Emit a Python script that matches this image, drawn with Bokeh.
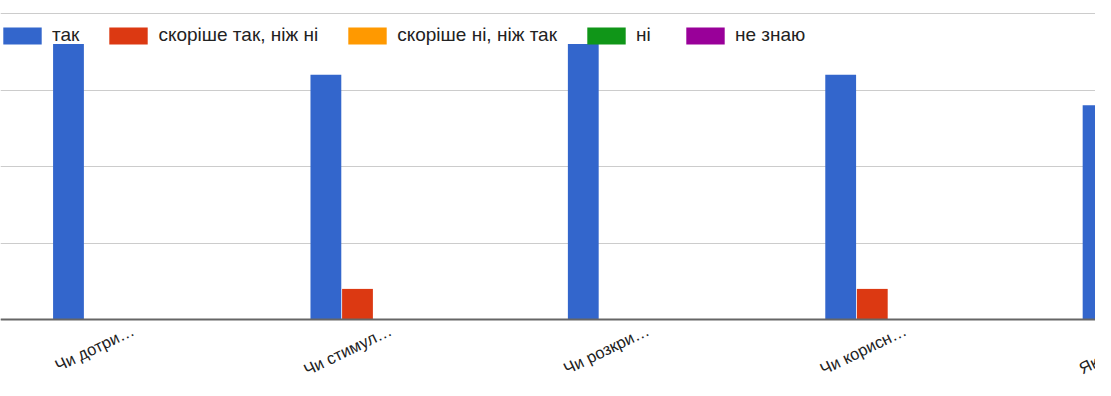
from bokeh.plotting import figure
from bokeh.models import Range1d, FixedTicker, Legend, LegendItem, ColumnDataSource, LabelSet, Span
from bokeh.core.properties import value
from bokeh.transform import dodge
from bokeh.embed import file_html
from bokeh.resources import INLINE

categories = ["Чи дотри…", "Чи стимул…", "Чи розкри…", "Чи корисн…", "Якщо вам…"]
series_names = ["так", "скоріше так, ніж ні", "скоріше ні, ніж так", "ні", "не знаю"]
tak = [18, 16, 18, 16, 14]
skorishe_tak = [0, 2, 0, 2, 4]
skorishe_ni = [0, 0, 0, 0, 0]
ni = [0, 0, 0, 0, 0]
ne_znayu = [0, 0, 0, 0, 0]
colors = ["#3366cc", "#dc3912", "#ff9900", "#109618", "#990099"]
y_ticks = [0, 5, 10, 15, 20]

W, H = 1095, 380
scale = 257.4           # px per category
x_start = -131.2 / scale
x_end = x_start + W / scale
top_border, baseline = 11, 319
px_per_unit = (baseline - 13) / 20.0
y_end = (baseline - top_border) / px_per_unit
y_start = -(H - baseline) / px_per_unit

xs = list(range(len(categories)))
src = ColumnDataSource(dict(x=xs, s0=tak, s1=skorishe_tak, s2=skorishe_ni, s3=ni, s4=ne_znayu))

p = figure(width=W, height=H, x_range=Range1d(x_start, x_end), y_range=Range1d(y_start, y_end),
           output_backend="svg", toolbar_location=None,
           min_border_left=0, min_border_right=0, min_border_top=top_border,
           min_border_bottom=0)
p.outline_line_color = None
p.xaxis.visible = False
p.yaxis.visible = False
p.xgrid.grid_line_color = None
p.ygrid.ticker = FixedTicker(ticks=y_ticks)
p.ygrid.grid_line_color = "#cccccc"
p.ygrid.grid_line_width = 1

pitch = 0.1228
offsets = [-2 * pitch, -pitch, 0, pitch, 2 * pitch]
items = []
for i, (name, c) in enumerate(zip(series_names, colors)):
    r = p.vbar(x=dodge("x", offsets[i], range=p.x_range), top="s%d" % i, bottom=0, width=0.1197,
               source=src, fill_color=c, line_color=None)
    items.append(LegendItem(label=name, renderers=[r]))

p.add_layout(Span(location=0, dimension="width", line_color="#666666", line_width=2))

lab_src = ColumnDataSource(dict(x=xs, text=categories))
labels = LabelSet(x=dodge("x", 4 / scale, range=p.x_range), y=-15 / px_per_unit, text="text",
                  source=lab_src, angle=0.45, text_align="right", text_baseline="alphabetic",
                  text_font=value("Liberation Sans"), text_font_size=value("16.5px"),
                  text_color="#222222")
p.add_layout(labels)

legend = Legend(items=items, orientation="horizontal", location=(-2, 334),
                border_line_color=None, background_fill_alpha=0, padding=0, margin=0,
                spacing=25, label_standoff=6, glyph_width=48, glyph_height=21,
                label_text_font="Liberation Sans", label_text_font_size="19px",
                label_text_color="#222222")
p.add_layout(legend)

open("out.html", "w").write(file_html(p, INLINE))
